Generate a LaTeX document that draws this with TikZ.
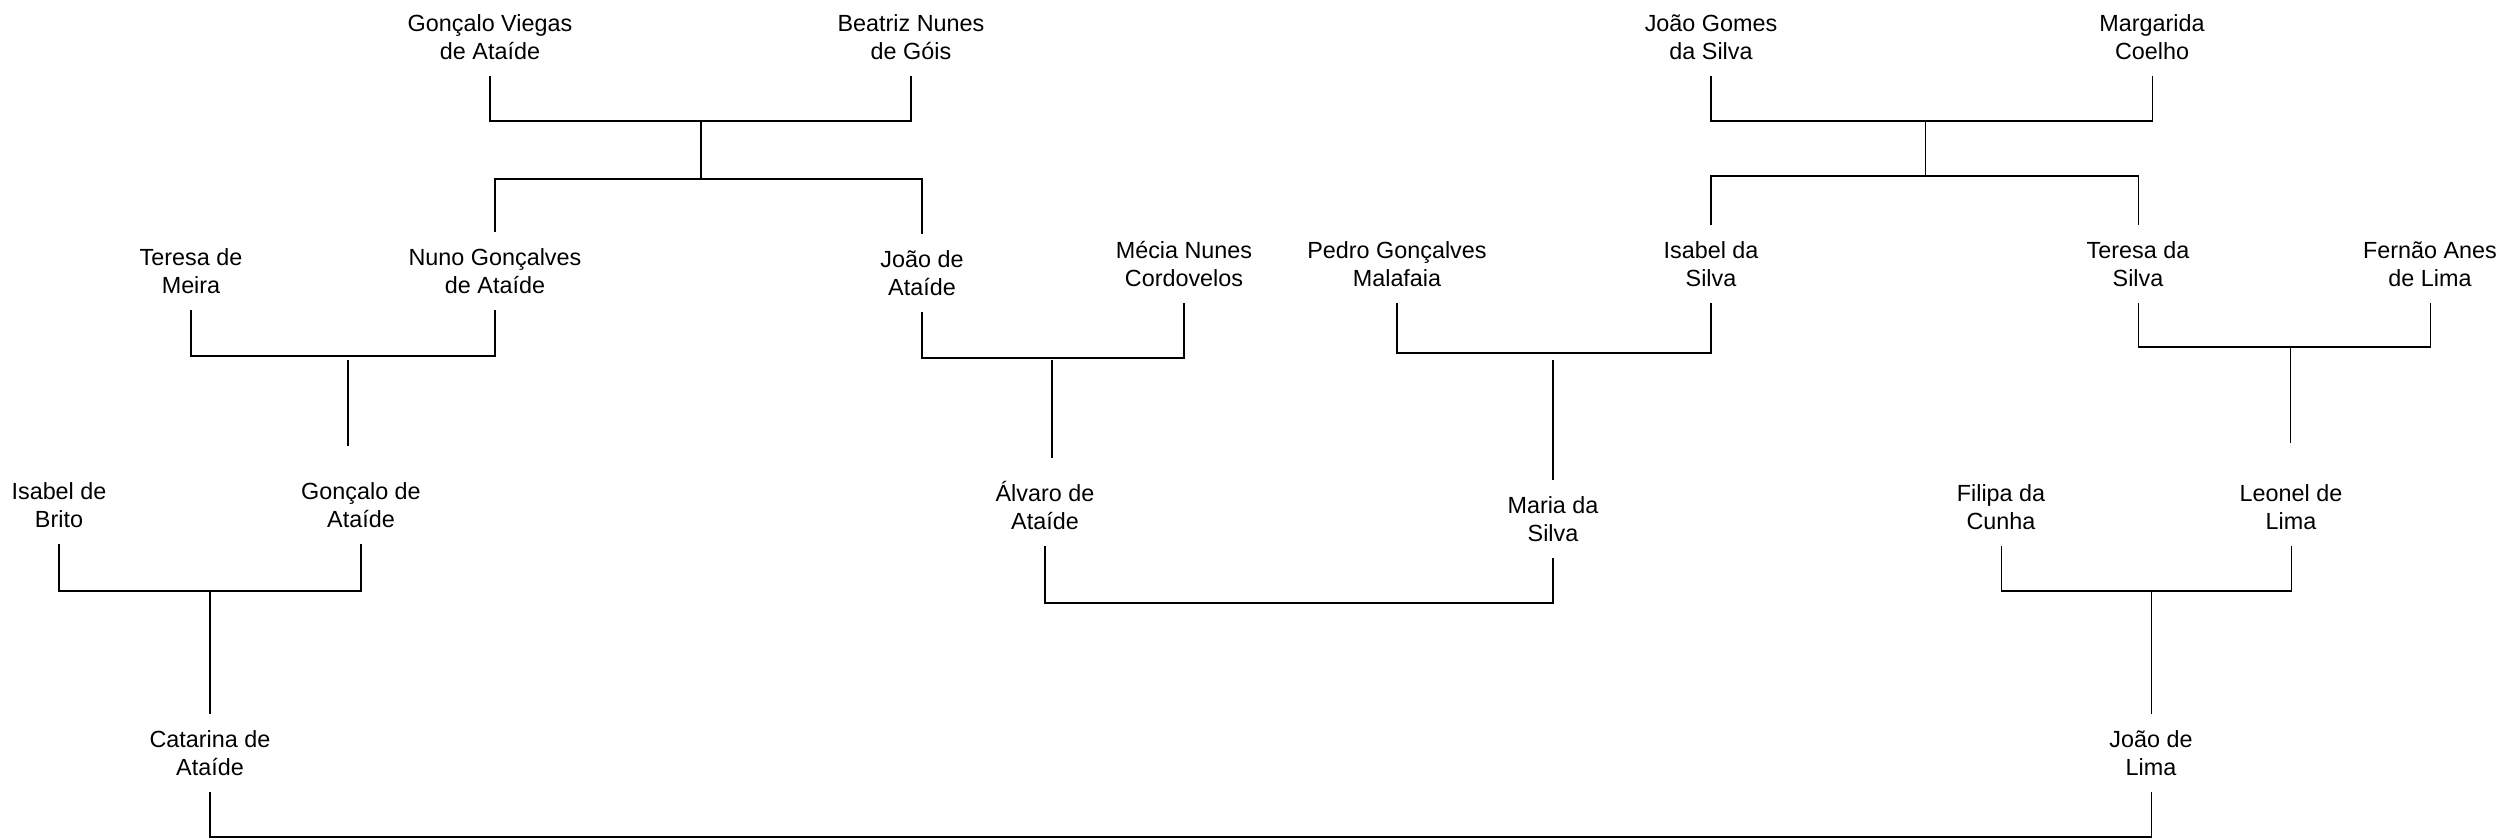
\documentclass[tikz,border=0pt]{standalone}
\usepackage{fontspec}
\setmainfont{Liberation Sans}
\begin{document}
\begin{tikzpicture}[x=0.02cm,y=-0.02cm,line width=0.6pt,
  person/.style={align=center,inner sep=0pt,font=\fontsize{13.3}{15.94}\selectfont,
    text height=25.44pt,text depth=0pt,minimum height=1.54cm}]

\useasboundingbox (0,0) rectangle (2504,838);

\node[person] (gv) at (490,37) {Gonçalo Viegas\\de Ataíde};
\node[person] (bn) at (911,37) {Beatriz Nunes\\de Góis};
\node[person] (jg) at (1711,37) {João Gomes\\da Silva};
\node[person] (mc) at (2152,37) {Margarida\\Coelho};

\node[person] (tm) at (191,271) {Teresa de\\Meira};
\node[person] (ng) at (495,271) {Nuno Gonçalves\\de Ataíde};
\node[person] (ja) at (922,273) {João de\\Ataíde};
\node[person] (mn) at (1184,264) {Mécia Nunes\\Cordovelos};
\node[person] (pg) at (1397,264) {Pedro Gonçalves\\Malafaia};
\node[person] (is) at (1711,264) {Isabel da\\Silva};
\node[person] (ts) at (2138,264) {Teresa da\\Silva};
\node[person] (fa) at (2430,264) {Fernão Anes\\de Lima};

\node[person] (ib) at (59,505) {Isabel de\\Brito};
\node[person] (ga) at (361,505) {Gonçalo de\\Ataíde};
\node[person] (aa) at (1045,507) {Álvaro de\\Ataíde};
\node[person] (ms) at (1553,519) {Maria da\\Silva};
\node[person] (fc) at (2001,507) {Filipa da\\Cunha};
\node[person] (ll) at (2291,507) {Leonel de\\Lima};

\node[person] (ca) at (210,753) {Catarina de\\Ataíde};
\node[person] (jl) at (2151,753) {João de\\Lima};

\coordinate (uGB) at (701,121);
\coordinate (fGB) at (701,179);
\coordinate (uJM) at (1925,121);
\coordinate (fJM) at (1925,176);
\coordinate (uTN) at (348,356);
\coordinate (eTN) at (348,446);
\coordinate (uJC) at (1052,358);
\coordinate (eJC) at (1052,458);
\coordinate (uPI) at (1553,353);
\coordinate (uTF) at (2290,347);
\coordinate (eTF) at (2290,443);
\coordinate (uIG) at (210,591);
\coordinate (uAM) at (1300,603);
\coordinate (uFL) at (2151,591);
\coordinate (uCJ) at (1180,837);

\draw (gv.south) |- (uGB) -| (bn.south);
\draw (uGB) -- (fGB);
\draw (ng.north) |- (fGB) -| (ja.north);

\draw (jg.south) |- (uJM) -| (mc.south);
\draw (uJM) -- (fJM);
\draw (is.north) |- (fJM) -| (ts.north);

\draw (tm.south) |- (uTN) -| (ng.south);
\draw (uTN) ++(0,4) -- (eTN);

\draw (ja.south) |- (uJC) -| (mn.south);
\draw (uJC) ++(0,2) -- (eJC);

\draw (pg.south) |- (uPI) -| (is.south);
\draw (uPI) ++(0,7) -- (ms.north);

\draw (ts.south) |- (uTF) -| (fa.south);
\draw (uTF) -- (eTF);

\draw (ib.south) |- (uIG) -| (ga.south);
\draw (uIG) -- (ca.north);

\draw (aa.south) |- (uAM) -| (ms.south);

\draw (fc.south) |- (uFL) -| (ll.south);
\draw (uFL) -- (jl.north);

\draw (ca.south) |- (uCJ) -| (jl.south);

\end{tikzpicture}
\end{document}
